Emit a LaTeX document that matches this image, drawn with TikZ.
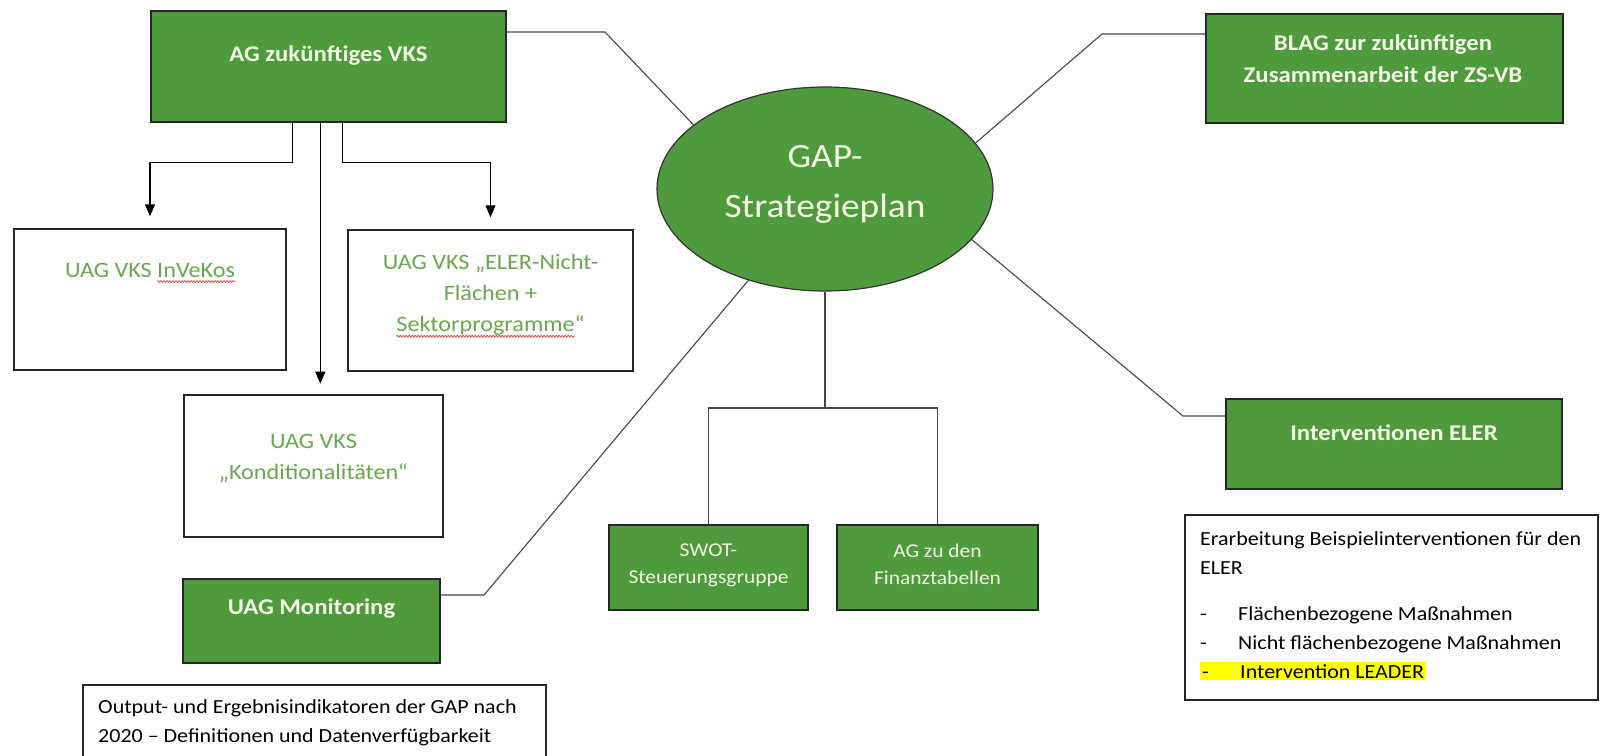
\documentclass[tikz,border=0pt]{standalone}
\usepackage{fontspec}
\setmainfont{Carlito}[FakeStretch=1.1]
\usetikzlibrary{arrows.meta,shapes.geometric,positioning,decorations.pathmorphing}

\definecolor{boxgreen}{RGB}{80,154,62}
\definecolor{txtgreen}{RGB}{106,168,79}
\definecolor{lighttxt}{RGB}{242,248,228}
\definecolor{linkgray}{RGB}{70,70,70}
\definecolor{spellred}{RGB}{220,40,40}
\definecolor{hilite}{RGB}{255,255,0}

% wavy red spell-check underline
\newlength\wavelen
\newcommand\redwave[1]{\settowidth\wavelen{#1}\tikz[overlay,baseline=0pt]\draw[spellred,line width=0.6pt,decorate,decoration={zigzag,amplitude=1pt,segment length=3pt}] (0pt,-4.5pt) -- (\wavelen,-4.5pt);#1}

\tikzset{
    greenbox/.style={rectangle,draw=black!85,line width=1.4pt,fill=boxgreen,inner sep=0pt},
    whitebox/.style={rectangle,draw=black!85,line width=1.4pt,fill=white,inner sep=0pt},
    planshape/.style={ellipse,draw=black!80,line width=1.2pt,fill=boxgreen,inner sep=0pt},
    headtxt/.style={font=\bfseries\fontsize{22.5}{32}\selectfont,text=lighttxt,align=center,inner sep=0pt},
    subtxt/.style={font=\fontsize{22}{31}\selectfont,text=txtgreen,align=center,inner sep=0pt},
    smalltxt/.style={font=\fontsize{19.5}{27}\selectfont,text=lighttxt,align=center,inner sep=0pt},
    notetxt/.style={font=\fontsize{20}{29}\selectfont,text=black,align=left,inner sep=0pt},
    plantxt/.style={font=\fontsize{34}{50}\selectfont,text=lighttxt,align=center,inner sep=0pt},
    link/.style={-,draw=linkgray,line width=1.1pt},
    dedge/.style={->,>={Triangle[length=12pt,width=10pt]},draw=black,line width=1.1pt},
}

\begin{document}
\begin{tikzpicture}[x=1pt,y=-1pt]
\useasboundingbox (0,0) rectangle (1601,755);
% boxes
\node[greenbox,minimum width=355pt,minimum height=111pt] (vks) at (328.5,66.5) {};
\node[whitebox,minimum width=272pt,minimum height=141pt] (invekos) at (150,299.5) {};
\node[whitebox,minimum width=285pt,minimum height=141pt] (eler) at (490.5,300.5) {};
\node[whitebox,minimum width=259pt,minimum height=142pt] (kond) at (313.5,466) {};
\node[greenbox,minimum width=257pt,minimum height=84pt] (monit) at (311.5,621) {};
\node[whitebox,minimum width=463pt,minimum height=75pt] (output) at (314.5,722.5) {};
\node[planshape,minimum width=336pt,minimum height=204pt] (plan) at (825,189) {};
\node[greenbox,minimum width=357pt,minimum height=109pt] (blag) at (1384.5,68.5) {};
\node[greenbox,minimum width=199pt,minimum height=85pt] (swot) at (708.5,567.5) {};
\node[greenbox,minimum width=201pt,minimum height=85pt] (finanz) at (937.5,567.5) {};
\node[greenbox,minimum width=336pt,minimum height=90pt] (interv) at (1394,444) {};
\node[whitebox,minimum width=413pt,minimum height=185pt] (erarb) at (1391.5,607.5) {};
% texts
\node[headtxt] (vkstxt) at (328.5,56) {AG zukünftiges VKS};
\node[subtxt] (invekostxt) at (150,270) {UAG VKS \redwave{InVeKos}};
\node[subtxt] (elertxt) at (490.5,295) {UAG VKS „ELER-Nicht-\\Flächen +\\\redwave{Sektorprogramme}“};
\node[subtxt] (kondtxt) at (313.5,459) {UAG VKS\\„Konditionalitäten“};
\node[headtxt] (monittxt) at (311.5,609) {UAG Monitoring};
\node[notetxt,anchor=west] (outputtxt) at (98,723) {Output- und Ergebnisindikatoren der GAP nach\\2020 – Definitionen und Datenverfügbarkeit};
\node[plantxt] (plantitle) at (825,184) {GAP-\\Strategieplan};
\node[headtxt] (blagtxt) at (1383,59) {BLAG zur zukünftigen\\Zusammenarbeit der ZS-VB};
\node[smalltxt] (swottxt) at (708.5,565) {SWOT-\\Steuerungsgruppe};
\node[smalltxt] (finanztxt) at (937.5,564) {AG zu den\\Finanztabellen};
\node[headtxt] (intervtxt) at (1394,433) {Interventionen ELER};
\node[notetxt,anchor=north west] (erarbtxt) at (1200,531) {Erarbeitung Beispielinterventionen für den\\ELER\\[17pt]
  \makebox[38pt][l]{-}Flächenbezogene Maßnahmen\\
  \makebox[38pt][l]{-}Nicht flächenbezogene Maßnahmen\\
  {\setlength{\fboxsep}{2pt}\colorbox{hilite}{\makebox[38pt][l]{-}Intervention LEADER}}};
% connectors
\draw[link] (vks.east |- 0,32) -- (605,32) -- (plan.154);
\draw[link] (blag.west |- 0,34) -- (1102,34) -- (plan.17);
\draw[link] (interv.west |- 0,416) -- (1183,416) -- (plan.-19);
\draw[link] (monit.east |- 0,595) -- (484,595) -- (plan.230);
\draw[link] (plan.south) -- (plan.south |- 0,408);
\draw[link] (swot.north) |- (finanz.north |- 0,408) -- (finanz.north);
\draw[dedge] ([xshift=142pt]vks.south west) -- ++(0,-40pt) -| ([yshift=12pt]invekos.north);
\draw[dedge] ([xshift=170pt]vks.south west) -- ++(0,-261pt);
\draw[dedge] ([xshift=192pt]vks.south west) -- ++(0,-40pt) -| ([yshift=12pt]eler.north);
\end{tikzpicture}
\end{document}
